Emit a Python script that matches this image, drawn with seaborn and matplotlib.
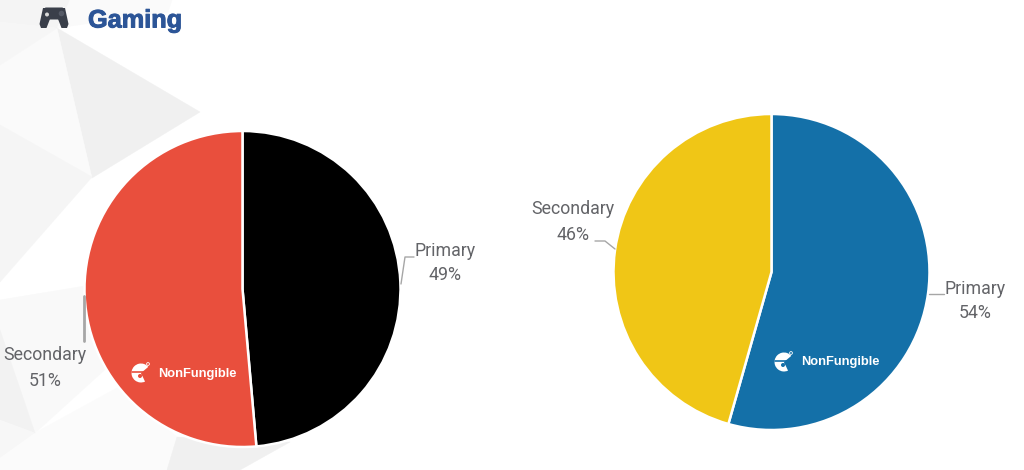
#!/usr/bin/env python3
import matplotlib
matplotlib.use("Agg")
import matplotlib.pyplot as plt
import matplotlib.patheffects as pe
import seaborn as sns
from matplotlib.patches import Polygon, Circle, FancyBboxPatch, Wedge

# ---------- DATA ----------
CATEGORIES   = ["Primary", "Secondary"]
LEFT_SHARES  = [48.6, 51.4]
RIGHT_SHARES = [54.4, 45.6]
LEFT_COLORS  = ["#000000", "#e94f3d"]
RIGHT_COLORS = ["#1470a8", "#f0c616"]
TITLE = "Gaming"
BRAND = "NonFungible"

W, H = 1024, 470
R = 158
NARROW = ["Roboto", "DejaVu Sans"]
TXT = "#636468"
LINE = "#a6a6a6"

sns.set_theme(style="white")
fig = plt.figure(figsize=(W / 100, H / 100), dpi=100, facecolor="white")

# background + overlay share pixel coordinates
bg = fig.add_axes([0, 0, 1, 1], zorder=0)
top = fig.add_axes([0, 0, 1, 1], zorder=5)
for a in (bg, top):
    a.set_xlim(0, W)
    a.set_ylim(H, 0)
    a.axis("off")
top.patch.set_alpha(0)

# faint low-poly decoration behind the charts
FACETS = [
    ([(0, 0), (70, 0), (57, 28), (0, 22)], "#f4f4f4"),
    ([(70, 0), (172, 0), (168, 12), (57, 28)], "#fafafa"),
    ([(57, 28), (200, 112), (92, 178)], "#f0f0f0"),
    ([(57, 28), (92, 178), (0, 125), (0, 65)], "#fafafa"),
    ([(0, 22), (57, 28), (0, 65)], "#f6f6f6"),
    ([(0, 125), (92, 177), (0, 282)], "#f5f5f5"),
    ([(0, 300), (85, 286), (110, 365), (35, 433), (0, 330)], "#f9f9f9"),
    ([(0, 330), (35, 433), (0, 420)], "#f2f2f2"),
    ([(35, 433), (117, 388), (177, 437), (167, 470), (55, 470)], "#fbfbfb"),
    ([(0, 420), (35, 433), (0, 458)], "#f7f7f7"),
    ([(0, 458), (35, 433), (55, 470), (0, 470)], "#fbfbfb"),
    ([(177, 437), (290, 442), (240, 470), (167, 470)], "#f0f0f0"),
]
for pts, col in FACETS:
    bg.add_patch(Polygon(pts, closed=True, fc=col, ec=col, lw=0.3))


def draw_pie(cx, cy, shares, colors):
    ax = fig.add_axes([(cx - R) / W, 1 - (cy + R) / H, 2 * R / W, 2 * R / H], zorder=2)
    ax.pie(shares, colors=colors, startangle=90, counterclock=False, radius=1,
           wedgeprops=dict(edgecolor="white", linewidth=1.8))
    ax.set_xlim(-1, 1)
    ax.set_ylim(-1, 1)
    ax.patch.set_alpha(0)
    return ax


draw_pie(242.5, 289, LEFT_SHARES, LEFT_COLORS)
draw_pie(771.5, 272, RIGHT_SHARES, RIGHT_COLORS)


def pie_label(x, y, name, share):
    top.text(x, y, f"{name}\n{round(share)}%", ha="center", va="center", color=TXT,
             family=NARROW, fontsize=12.8, linespacing=1.5)


pie_label(445, 263, CATEGORIES[0], LEFT_SHARES[0])
pie_label(45, 368, CATEGORIES[1], LEFT_SHARES[1])
pie_label(975, 301, CATEGORIES[0], RIGHT_SHARES[0])
pie_label(573, 222, CATEGORIES[1], RIGHT_SHARES[1])

# leader lines
top.plot([401, 405, 414], [284, 257, 257], color=LINE, lw=1)
top.plot([84, 84], [296, 341], color=LINE, lw=2)
top.plot([595, 605, 615], [241, 241, 249], color=LINE, lw=1)
top.plot([929, 944], [294, 294], color=LINE, lw=1)


# white brand mark on each pie
def brand(x, y, back):
    top.add_patch(Wedge((x, y), 9.5, 65, 320, fc="white", ec="none"))
    top.plot([x - 9, x + 4], [y - 1, y - 1], color=back, lw=1.2)
    top.plot([x + 1, x + 8], [y + 1, y + 7], color=back, lw=1.2)
    top.add_patch(Circle((x - 1, y + 3), 2, fc=back, ec="none"))
    top.add_patch(Circle((x + 7, y - 9), 1.4, fc="none", ec="white", lw=0.6))
    top.text(x + 17, y + 0.5, BRAND, color="white", fontsize=9.3, fontweight="bold",
             family=["Liberation Sans", "DejaVu Sans"], va="center", ha="left")


brand(141, 373, LEFT_COLORS[1])
brand(784, 362, RIGHT_COLORS[0])

# title + little game controller
top.text(88, 20.5, TITLE, color="#2c5597", fontsize=18.2, fontweight="bold",
         family=["Liberation Sans", "DejaVu Sans"], va="center", ha="left",
         path_effects=[pe.withStroke(linewidth=0.7, foreground="#2c5597")])
PAD = "#3a3f4a"
top.add_patch(FancyBboxPatch((46, 9), 16, 9, boxstyle="round,pad=1.5", fc=PAD, ec="none"))
top.add_patch(Polygon([(43, 8), (50, 8), (50, 19), (46.5, 28), (41, 28), (39.5, 24)], fc=PAD, ec="none"))
top.add_patch(Polygon([(58, 8), (65, 8), (68.5, 24), (67, 28), (61.5, 28), (58, 19)], fc=PAD, ec="none"))
top.add_patch(Circle((47, 14.5), 2, fc="#d9d9d9", ec="none"))
top.add_patch(Circle((61.5, 13.5), 2.8, fc="#555a66", ec="none"))

fig.savefig("out.png", dpi=100, facecolor="white")
